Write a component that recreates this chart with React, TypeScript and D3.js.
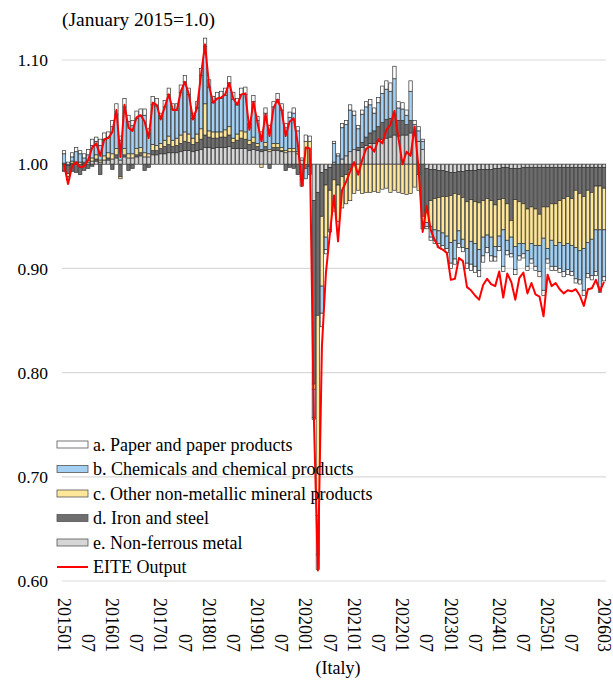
import React from 'react';
import * as d3 from 'd3';

// ---------- data ----------
const MONTHS: string[] = [];
for (let y = 2015; y <= 2026; y++) {
  for (let m = 1; m <= 12; m++) {
    if (MONTHS.length < 135) MONTHS.push(`${y}${m < 10 ? '0' + m : m}`);
  }
}

const X_TICKS = ['201501','201507','201601','201607','201701','201707','201801','201807','201901','201907','202001','202007','202101','202107','202201','202207','202301','202307','202401','202407','202501','202507','202603'];

const SERIES_NAMES = [
  'a. Paper and paper products',
  'b. Chemicals and chemical products',
  'c. Other non-metallic mineral products',
  'd. Iron and steel',
  'e. Non-ferrous metal',
];

const EITE = [
  1.000, 0.981, 0.998, 1.002, 0.997, 0.998, 1.004, 1.016, 1.020, 1.008, 1.024, 1.025,
  1.031, 1.052, 1.007, 1.057, 1.035, 1.032, 1.045, 1.047, 1.041, 1.025, 1.059, 1.057,
  1.043, 1.055, 1.067, 1.052, 1.052, 1.070, 1.079, 1.067, 1.043, 1.054, 1.086, 1.115,
  1.075, 1.059, 1.063, 1.064, 1.067, 1.078, 1.063, 1.057, 1.067, 1.068, 1.033, 1.060,
  1.040, 1.022, 1.048, 1.027, 1.054, 1.062, 1.052, 1.027, 1.041, 1.044, 1.020, 0.979,
  1.016, 1.015, 0.757, 0.610, 0.825, 0.896, 0.934, 0.970, 0.926, 0.975, 0.983, 0.993,
  1.002, 0.990, 1.004, 1.015, 1.017, 1.012, 1.024, 1.020, 1.033, 1.038, 1.051, 1.025,
  1.000, 1.012, 1.008, 1.036, 0.995, 0.935, 0.960, 0.937, 0.927, 0.920, 0.918, 0.915,
  0.889, 0.890, 0.910, 0.907, 0.882, 0.879, 0.874, 0.870, 0.884, 0.890, 0.885, 0.883,
  0.897, 0.872, 0.895, 0.887, 0.870, 0.891, 0.896, 0.876, 0.886, 0.875, 0.873, 0.854,
  0.894, 0.883, 0.886, 0.880, 0.876, 0.879, 0.878, 0.880, 0.874, 0.864, 0.880, 0.881,
  0.889, 0.878, 0.887,
];

const NONFERROUS = [
  .001, -.001, .001, .001, .000, .001, .002, .003, .003, .002, .004, .004,
  .005, .006, .004, .007, .006, .006, .007, .008, .007, .007, .009, .009,
  .010, .010, .011, .011, .011, .012, .013, .013, .012, .013, .014, .016,
  .016, .015, .016, .016, .016, .017, .015, .015, .015, .015, .013, .014,
  .013, .012, .013, .012, .013, .013, .012, .011, .012, .012, .010, .004,
  .000, .000, -.035, -.027, -.008, -.005, -.003, .002, .000, .005, .008, .012,
  .014, .013, .016, .018, .020, .020, .022, .024, .025, .026, .028, .027,
  .028, .028, .030, .028, .022, .014, -.004, -.005, -.005, -.006, -.006, -.007,
  -.008, -.008, -.007, -.007, -.006, -.006, -.006, -.005, -.005, -.005, -.005, -.004,
  -.004, -.003, -.003, -.004, -.004, -.004, -.003, -.003, -.003, -.003, -.003, -.003,
  -.003, -.003, -.003, -.003, -.003, -.003, -.003, -.003, -.003, -.003, -.003, -.003,
  -.003, -.003, -.003,
];

const IRON_STEEL = [
  -.006, -.008, -.007, -.008, -.010, -.006, -.004, -.002, .002, -.010, .000, .002,
  -.005, .003, -.012, .002, -.006, -.004, .002, .003, -.006, -.003, .004, .004,
  .005, .007, .008, .006, .007, .008, .009, .008, .007, .008, .010, .012,
  .010, .010, .009, .010, .010, .011, .006, .008, .010, .009, .006, .007,
  .004, .002, .004, -.004, .003, .003, .001, -.006, -.003, -.004, -.010, -.012,
  -.004, -.002, -.176, -.118, -.042, -.015, -.022, -.015, -.020, -.012, -.010, -.005,
  .000, .003, .005, .008, .010, .012, .014, .016, .018, .018, .020, .015,
  .014, .010, .012, .000, -.010, -.050, -.040, -.030, -.028, -.026, -.025, -.024,
  -.022, -.020, -.022, -.025, -.030, -.028, -.030, -.032, -.030, -.028, -.030, -.035,
  -.030, -.030, -.035, -.050, -.030, -.032, -.035, -.040, -.038, -.040, -.045, -.038,
  -.038, -.035, -.035, -.032, -.030, -.028, -.030, -.022, -.025, -.028, -.022, -.024,
  -.018, -.018, -.020,
];

const NONMETALLIC = [
  -.001, -.003, .002, .001, .002, .001, .002, .003, .004, .002, .004, .005,
  .005, .006, -.002, .006, .004, .004, .006, .005, .004, .003, .006, .005,
  .005, .006, .008, .006, .007, .008, .009, .008, .006, .008, .010, .030,
  .006, .006, .006, .005, .007, .008, .004, .006, .007, .007, .004, .005,
  .003, -.003, .004, .002, .004, .004, .003, .002, .003, .003, .002, -.003,
  .022, .022, -.005, -.192, -.067, -.050, -.038, -.030, -.035, -.030, -.028, -.030,
  -.028, -.025, -.028, -.027, -.027, -.026, -.027, -.024, -.023, -.027, -.025, -.027,
  -.028, -.029, -.028, -.022, -.015, -.012, -.012, -.025, -.030, -.032, -.035, -.038,
  -.045, -.045, -.035, -.040, -.045, -.040, -.040, -.045, -.035, -.035, -.035, -.040,
  -.035, -.030, -.035, -.016, -.045, -.040, -.038, -.040, -.035, -.035, -.030, -.030,
  -.040, -.035, -.040, -.040, -.045, -.045, -.045, -.055, -.055, -.050, -.050, -.045,
  -.042, -.042, -.040,
];

const CHEMICALS = [
  .009, -.003, .004, .010, .008, .004, .005, .012, .013, .014, .016, .015,
  .026, .033, .019, .040, .031, .027, .029, .031, .036, .020, .038, .038,
  .024, .032, .040, .030, .027, .041, .048, .038, .019, .025, .051, .055,
  .042, .028, .032, .032, .033, .042, .037, .028, .035, .036, .012, .034,
  .022, .013, .028, .019, .035, .042, .036, .022, .030, .034, .020, -.006,
  -.010, -.008, -.027, -.038, -.026, -.012, .000, .018, .008, .030, .030, .040,
  .033, .018, .027, .029, .027, .017, .023, .028, .029, .026, .034, .012,
  .011, .009, .028, .010, .010, .008, -.004, -.010, -.010, -.012, -.012, -.012,
  -.020, -.018, -.012, -.008, -.014, -.022, -.022, -.020, -.018, -.012, -.018, -.010,
  -.010, -.035, -.010, -.016, -.022, -.012, -.010, -.015, -.015, -.020, -.025, -.050,
  -.010, -.025, -.020, -.025, -.025, -.025, -.025, -.030, -.028, -.040, -.030, -.035,
  -.040, -.055, -.045,
];

const PAPER = [
  .003, .002, .004, .004, .003, .004, .005, .006, .004, .006, .006, .005,
  .006, .010, .004, .008, .006, .005, .007, .006, .006, .004, .008, .007,
  .005, .006, .006, .005, .006, .007, .006, .006, .005, .006, .007, .008,
  .007, .006, .006, .007, .007, .006, .007, .006, .006, .007, .004, .006,
  .004, .004, .005, .004, .005, .006, .006, .004, .005, .005, .004, .002,
  .006, .005, -.002, -.014, -.013, -.004, -.002, .002, .002, .004, .004, .005,
  .004, .003, .004, .005, .005, .005, .005, .007, .008, .008, .012, .006,
  .006, .005, .010, .004, .004, .002, -.002, -.003, -.003, -.004, -.004, -.004,
  -.005, -.005, -.004, -.004, -.005, -.006, -.006, -.006, -.006, -.005, -.005, -.004,
  -.004, -.005, -.004, -.003, -.005, -.004, -.004, -.004, -.004, -.004, -.005, -.005,
  -.004, -.004, -.004, -.004, -.005, -.005, -.004, -.004, -.004, -.005, -.004, -.004,
  -.004, -.005, -.004,
];

// stacking order from the baseline outward
const STACK_KEYS = ['e', 'd', 'c', 'b', 'a'];
const COLORS: Record<string, string> = {
  a: '#ffffff',
  b: '#a3d0f3',
  c: '#ffe699',
  d: '#6e6e6e',
  e: '#d6d6d6',
};
const LEGEND_KEYS = ['a', 'b', 'c', 'd', 'e'];

const FONT = '"Liberation Serif", "Times New Roman", serif';

export default function App() {
  const W = 613, H = 683;
  const X0 = 62, X1 = 606;
  const y = d3.scaleLinear().domain([0.6, 1.1]).range([581, 60]);
  const x = d3.scaleBand<string>().domain(MONTHS).range([X0, X1]).paddingInner(0.16).paddingOuter(0.08);

  const rows = MONTHS.map((m, i) => ({
    month: m,
    a: PAPER[i], b: CHEMICALS[i], c: NONMETALLIC[i], d: IRON_STEEL[i], e: NONFERROUS[i],
  }));
  const stacked = d3.stack<any>().keys(STACK_KEYS).offset(d3.stackOffsetDiverging)(rows);

  const line = d3.line<number>()
    .x((_, i) => (x(MONTHS[i]) as number) + x.bandwidth() / 2)
    .y((v) => y(v));

  const yTicks = [0.6, 0.7, 0.8, 0.9, 1.0, 1.1];
  const legendY0 = 444.5, legendStep = 24.5;

  return (
    <svg width={W} height={H} style={{ position: 'absolute', left: 0, top: 0, background: '#fff' }} fontFamily={FONT}>
      <rect x={0} y={0} width={W} height={H} fill="#fff" />
      <text x={62} y={26} fontSize={19.5} fill="#000">(January 2015=1.0)</text>

      {yTicks.map((t) => (
        <g key={t}>
          <line x1={X0} x2={X1} y1={y(t)} y2={y(t)} stroke="#d9d9d9" strokeWidth={1.2} />
          <text x={48} y={y(t)} dy="0.35em" textAnchor="end" fontSize={17.5} fill="#000">{t.toFixed(2)}</text>
        </g>
      ))}

      {stacked.map((s) => (
        <g key={s.key} fill={COLORS[s.key]}>
          {s.map((seg, i) => {
            const y0 = y(1 + seg[0]);
            const y1 = y(1 + seg[1]);
            const top = Math.min(y0, y1);
            const h = Math.abs(y0 - y1);
            if (h < 0.01) return null;
            return (
              <rect key={i} x={x(MONTHS[i])} y={top} width={x.bandwidth()} height={h}
                stroke="#333" strokeWidth={0.7} />
            );
          })}
        </g>
      ))}

      <path d={line(EITE) || ''} fill="none" stroke="#ff0000" strokeWidth={2} strokeLinejoin="round" />

      {X_TICKS.map((m) => {
        const cx = (x(m) as number) + x.bandwidth() / 2;
        const label = m.endsWith('07') ? '07' : m;
        return (
          <text key={m} transform={`translate(${cx},652) rotate(90)`} textAnchor="end" dy="0.35em" fontSize={18} fill="#000">{label}</text>
        );
      })}

      <text x={338} y={674} textAnchor="middle" fontSize={18} fill="#000">(Italy)</text>

      {LEGEND_KEYS.map((k, i) => (
        <g key={k}>
          <rect x={57} y={legendY0 + i * legendStep - 3.5} width={31} height={7} fill={COLORS[k]} stroke="#555" strokeWidth={0.8} />
          <text x={93} y={legendY0 + i * legendStep} dy="0.35em" fontSize={18} fill="#000">{SERIES_NAMES[i]}</text>
        </g>
      ))}
      <line x1={57} x2={88} y1={legendY0 + 5 * legendStep} y2={legendY0 + 5 * legendStep} stroke="#ff0000" strokeWidth={2} />
      <text x={93} y={legendY0 + 5 * legendStep} dy="0.35em" fontSize={18} fill="#000">EITE Output</text>
    </svg>
  );
}
